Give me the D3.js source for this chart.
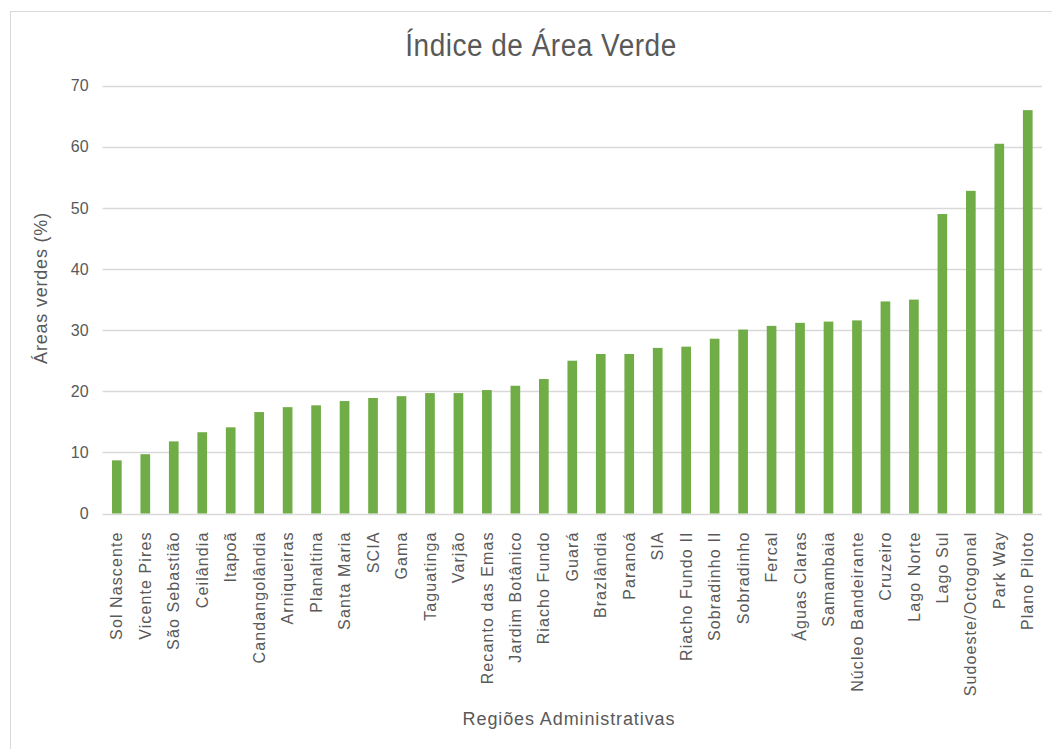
<!DOCTYPE html>
<html>
<head>
<meta charset="utf-8">
<script src="https://cdn.jsdelivr.net/npm/d3@7"></script>
<style>
  html, body { margin: 0; padding: 0; background: #fff; }
  svg text { font-family: "Liberation Sans", Arial, sans-serif; fill: #595959; }
</style>
</head>
<body>
<svg id="chart" width="1052" height="749"></svg>
<script>
const categories = ["Sol Nascente","Vicente Pires","São Sebastião","Ceilândia","Itapoã","Candangolândia","Arniqueiras","Planaltina","Santa Maria","SCIA","Gama","Taguatinga","Varjão","Recanto das Emas","Jardim Botânico","Riacho Fundo","Guará","Brazlândia","Paranoá","SIA","Riacho Fundo II","Sobradinho II","Sobradinho","Fercal","Águas Claras","Samambaia","Núcleo Bandeirante","Cruzeiro","Lago Norte","Lago Sul","Sudoeste/Octogonal","Park Way","Plano Piloto"];
const values = [8.7,9.7,11.8,13.3,14.1,16.6,17.4,17.7,18.4,18.9,19.2,19.7,19.7,20.2,20.9,22.0,25.0,26.1,26.1,27.1,27.3,28.6,30.1,30.7,31.2,31.4,31.6,34.7,35.0,49.0,52.8,60.5,66.0];
const yTicks = [0,10,20,30,40,50,60,70];
const chartTitle = "Índice de Área Verde";
const yTitle = "Áreas verdes (%)";
const xTitle = "Regiões Administrativas";

(function () {
const svg = d3.select("#chart");
const pL = 102.6, pR = 1042, pT = 85.7, pB = 513.5;

// chart area border (top & left visible)
svg.append("rect").attr("x", 10.5).attr("y", 11.5).attr("width", 1060).attr("height", 760)
  .attr("fill", "none").attr("stroke", "#d9d9d9").attr("stroke-width", 1);

const x = d3.scaleBand().domain(categories).range([pL, pR]).paddingInner(0.66).paddingOuter(0.33);
const y = d3.scaleLinear().domain([0, 70]).range([pB, pT]);

// gridlines
svg.append("g").selectAll("line").data(yTicks).join("line")
  .attr("x1", pL).attr("x2", pR)
  .attr("y1", d => Math.round(y(d)) + 0.5).attr("y2", d => Math.round(y(d)) + 0.5)
  .attr("stroke", "#d9d9d9").attr("stroke-width", 1.3);

// y axis labels
const yAxis = d3.axisLeft(y).tickValues(yTicks).tickSize(0).tickPadding(0);
const gy = svg.append("g").attr("transform", `translate(${pL - 14},0)`).call(yAxis);
gy.select(".domain").remove();
gy.selectAll("text").attr("font-size", 16).style("font-family", "'Liberation Sans', Arial, sans-serif").attr("fill", "#595959");

// bars
svg.append("g").selectAll("rect").data(values).join("rect")
  .attr("x", (d, i) => x(categories[i]))
  .attr("width", x.bandwidth())
  .attr("y", d => y(d))
  .attr("height", d => y(0) - y(d))
  .attr("fill", "#70ad47");

// x axis labels
const xAxis = d3.axisBottom(x).tickSize(0).tickPadding(0);
const gx = svg.append("g").attr("transform", `translate(0,${pB})`).call(xAxis);
gx.select(".domain").remove();
gx.selectAll("text")
  .attr("font-size", 16)
  .style("font-family", "'Liberation Sans', Arial, sans-serif")
  .attr("fill", "#595959")
  .attr("text-anchor", "end")
  .attr("dy", "0.35em")
  .attr("transform", "translate(0,18) rotate(-90)")
  .attr("x", 0).attr("y", 0)
  .style("letter-spacing", "1.1px");

// title
svg.append("text").attr("transform", "translate(541,56) scale(1,1.1)").attr("text-anchor", "middle")
  .attr("font-size", 28).style("letter-spacing", "0.5px").text(chartTitle);

// y title
svg.append("text").attr("transform", "translate(47,288) rotate(-90)").attr("text-anchor", "middle")
  .attr("font-size", 18).style("letter-spacing", "0.8px").text(yTitle);

// x title
svg.append("text").attr("x", 569).attr("y", 725).attr("text-anchor", "middle")
  .attr("font-size", 18).style("letter-spacing", "0.9px").text(xTitle);
})();
</script>
</body>
</html>
